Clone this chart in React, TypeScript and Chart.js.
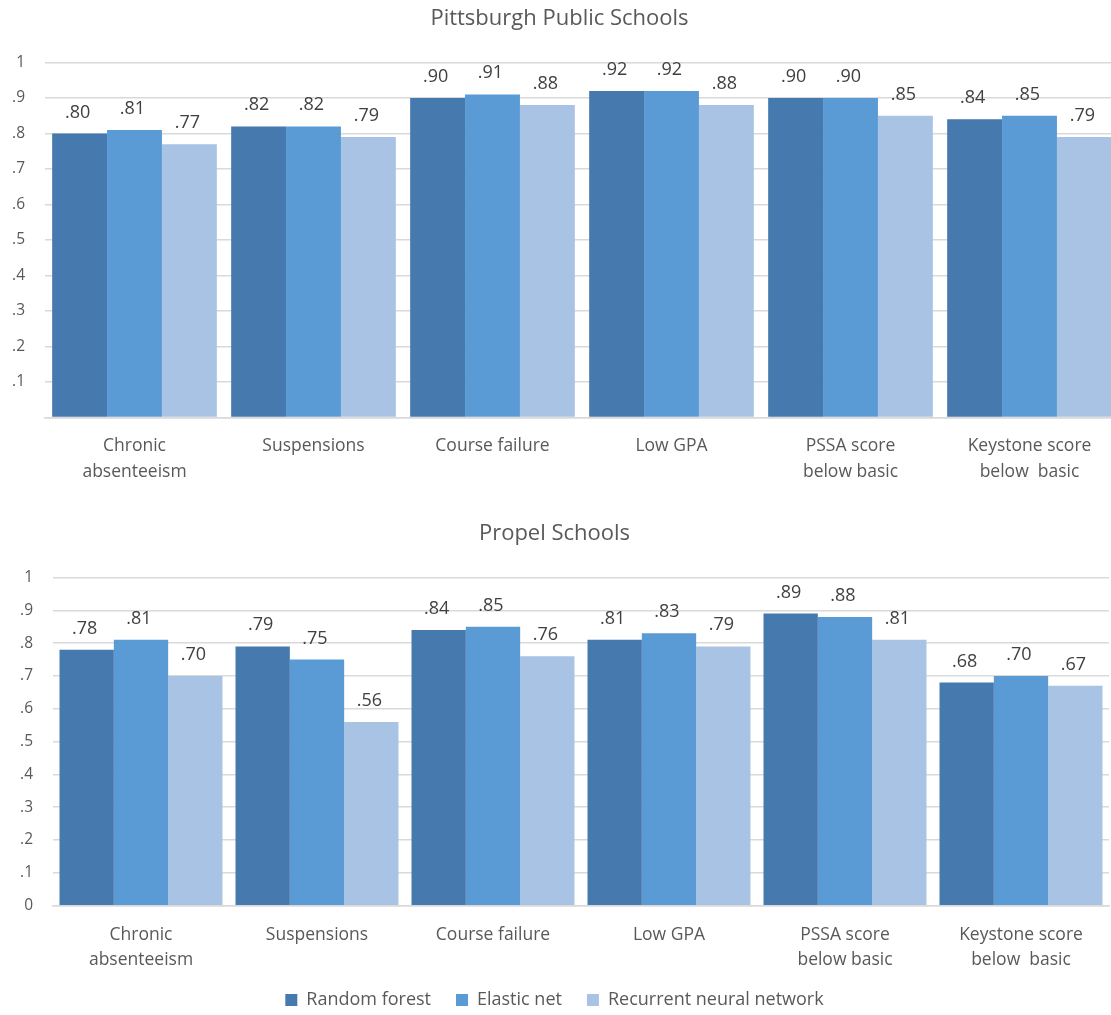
import React, { useEffect, useRef } from 'react';
import { Chart, registerables } from 'chart.js';

Chart.register(...registerables);

const categories: (string | string[])[] = [
  ['Chronic', 'absenteeism'],
  'Suspensions',
  'Course failure',
  'Low GPA',
  ['PSSA score', 'below basic'],
  ['Keystone score', 'below  basic'],
];
const seriesNames = ['Random forest', 'Elastic net', 'Recurrent neural network'];

const pittsburghTitle = 'Pittsburgh Public Schools';
const pittsburghRandomForest = [0.8, 0.82, 0.9, 0.92, 0.9, 0.84];
const pittsburghElasticNet = [0.81, 0.82, 0.91, 0.92, 0.9, 0.85];
const pittsburghRNN = [0.77, 0.79, 0.88, 0.88, 0.85, 0.79];

const propelTitle = 'Propel Schools';
const propelRandomForest = [0.78, 0.79, 0.84, 0.81, 0.89, 0.68];
const propelElasticNet = [0.81, 0.75, 0.85, 0.83, 0.88, 0.7];
const propelRNN = [0.7, 0.56, 0.76, 0.79, 0.81, 0.67];

const yMin = 0;
const yMax = 1;
const yStep = 0.1;

const seriesColors = ['#4679AD', '#5B9BD5', '#A9C3E4'];
const FONT = '"Open Sans", Lato, sans-serif';
const TEXT = '#595959';

const valueLabels = {
  id: 'valueLabels',
  afterDatasetsDraw(chart: any) {
    const ctx = chart.ctx;
    ctx.save();
    ctx.font = `18px ${FONT}`;
    ctx.fillStyle = '#404040';
    ctx.textAlign = 'center';
    ctx.textBaseline = 'alphabetic';
    chart.data.datasets.forEach((ds: any, i: number) => {
      chart.getDatasetMeta(i).data.forEach((bar: any, j: number) => {
        const v = ds.data[j] as number;
        ctx.fillText(v.toFixed(2).replace(/^0/, ''), bar.x - 2, bar.y - 16);
      });
    });
    ctx.restore();
  },
};

function fmtTick(v: number, showZero: boolean) {
  if (Math.abs(v) < 1e-9) return showZero ? '0' : '';
  if (Math.abs(v - 1) < 1e-9) return '1';
  return '.' + Math.round(v * 10);
}

function buildConfig(
  title: string,
  rf: number[],
  en: number[],
  rnn: number[],
  showZero: boolean,
  showLegend: boolean,
  axisWidth: number,
  xHeight: number,
  padding: { left: number; right: number; top: number; bottom: number },
  catPct: number
): any {
  const values = [rf, en, rnn];
  return {
    type: 'bar',
    data: {
      labels: categories,
      datasets: seriesNames.map((name, i) => ({
        label: name,
        data: values[i],
        backgroundColor: seriesColors[i],
        borderWidth: 0,
        barPercentage: 1.0,
        categoryPercentage: catPct,
      })),
    },
    options: {
      responsive: false,
      animation: false,
      layout: { padding },
      plugins: {
        title: {
          display: true,
          text: title,
          color: TEXT,
          font: { family: FONT, size: 22, weight: 'normal', lineHeight: 1.2 },
          padding: { top: 5.8, bottom: 30.3 },
        },
        legend: {
          display: showLegend,
          position: 'bottom',
          labels: {
            color: TEXT,
            font: { family: FONT, size: 18 },
            boxWidth: 12,
            boxHeight: 12,
            padding: 25,
          },
        },
        tooltip: { enabled: false },
      },
      scales: {
        x: {
          afterFit(scale: any) {
            scale.height = xHeight;
            scale._computeLabelArea = () => undefined;
          },
          grid: { display: false },
          border: { display: true, color: '#d9d9d9', width: 1.5 },
          ticks: {
            color: TEXT,
            font: { family: FONT, size: 17.5, lineHeight: 1.43 },
            padding: 8.5,
            maxRotation: 0,
            autoSkip: false,
          },
        },
        y: {
          min: yMin,
          max: yMax,
          afterFit(scale: any) {
            scale.width = axisWidth;
          },
          grid: { color: '#d9d9d9', lineWidth: 1.5, drawTicks: false },
          border: { display: false },
          ticks: {
            stepSize: yStep,
            color: TEXT,
            font: { family: FONT, size: 15.5 },
            padding: 20,
            callback: (v: any) => fmtTick(Number(v), showZero),
          },
        },
      },
    },
    plugins: [valueLabels],
  };
}

function ChartCanvas(props: { config: () => any; width: number; height: number; top: number }) {
  const ref = useRef<HTMLCanvasElement | null>(null);
  useEffect(() => {
    if (!ref.current) return;
    const chart = new Chart(ref.current, props.config());
    return () => chart.destroy();
  }, []);
  return (
    <canvas
      ref={ref}
      width={props.width}
      height={props.height}
      style={{ position: 'absolute', left: 0, top: props.top, width: props.width, height: props.height }}
    />
  );
}

export default function App() {
  return (
    <div
      style={{
        position: 'absolute',
        left: 0,
        top: 0,
        width: 1111,
        height: 1015,
        overflow: 'hidden',
        background: '#ffffff',
      }}
    >
      <ChartCanvas
        top={0}
        width={1125}
        height={488}
        config={() =>
          buildConfig(
            pittsburghTitle,
            pittsburghRandomForest,
            pittsburghElasticNet,
            pittsburghRNN,
            false,
            false,
            45,
            70.5,
            { left: 0, right: 6, top: 0, bottom: 0 },
            0.92
          )
        }
      />
      <ChartCanvas
        top={515}
        width={1111}
        height={504}
        config={() =>
          buildConfig(
            propelTitle,
            propelRandomForest,
            propelElasticNet,
            propelRNN,
            true,
            true,
            53,
            60.3,
            { left: 0, right: 2, top: 0, bottom: 0 },
            0.926
          )
        }
      />
    </div>
  );
}
